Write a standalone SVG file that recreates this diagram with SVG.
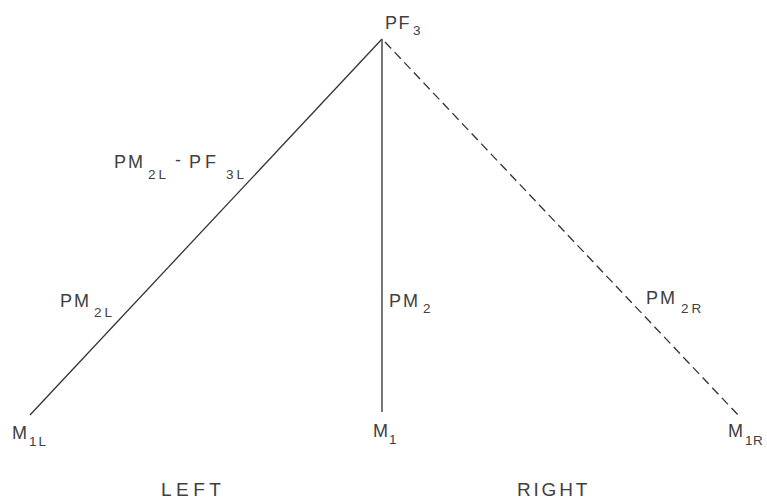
<svg xmlns="http://www.w3.org/2000/svg" width="767" height="500" viewBox="0 0 767 500">
<style>
text{font-family:"Liberation Sans",Arial,sans-serif;font-size:18px;fill:#404040}
.m{letter-spacing:2px}
.s{font-size:13.5px;letter-spacing:2px}
.ln{stroke:#333;stroke-width:1.3;fill:none}
.c{stroke:#555;stroke-width:1.6}
.d{stroke-dasharray:9,5}
</style>
<rect width="767" height="500" fill="#fff"/>
<g id="connectors">
<line class="ln" x1="382" y1="39" x2="30" y2="415"/>
<line class="ln c" x1="382" y1="39" x2="382" y2="412"/>
<line class="ln d" x1="385" y1="42" x2="739" y2="416"/>
</g>
<g id="PF3"><text><tspan class="m" x="385" y="29" style="letter-spacing:1.5px">PF</tspan><tspan class="s" x="413" y="35">3</tspan></text></g>
<g id="PM2L-PF3L"><text><tspan class="m" x="114" y="168">PM</tspan><tspan class="s" x="148" y="179" style="letter-spacing:3px">2L</tspan><tspan x="175" y="166">-</tspan><tspan x="189" y="168" style="letter-spacing:4px">PF</tspan><tspan class="s" x="226" y="179" style="letter-spacing:3px">3L</tspan></text></g>
<g id="PM2L"><text><tspan class="m" x="60" y="307">PM</tspan><tspan class="s" x="94" y="317" style="letter-spacing:3px">2L</tspan></text></g>
<g id="PM2"><text><tspan class="m" x="389" y="307">PM</tspan><tspan class="s" x="423" y="313">2</tspan></text></g>
<g id="PM2R"><text><tspan class="m" x="646" y="304">PM</tspan><tspan class="s" x="681" y="313" style="letter-spacing:3px">2R</tspan></text></g>
<g id="M1L"><text><tspan x="12" y="439">M</tspan><tspan class="s" x="29" y="446">1L</tspan></text></g>
<g id="M1"><text><tspan x="373" y="437">M</tspan><tspan class="s" x="389" y="444">1</tspan></text></g>
<g id="M1R"><text><tspan x="728" y="437">M</tspan><tspan class="s" x="745" y="445" style="letter-spacing:0.5px">1R</tspan></text></g>
<g id="LEFT"><text x="161" y="496" style="font-size:19px;letter-spacing:4.5px">LEFT</text></g>
<g id="RIGHT"><text x="517" y="496" style="font-size:19px;letter-spacing:2.8px">RIGHT</text></g>
</svg>
